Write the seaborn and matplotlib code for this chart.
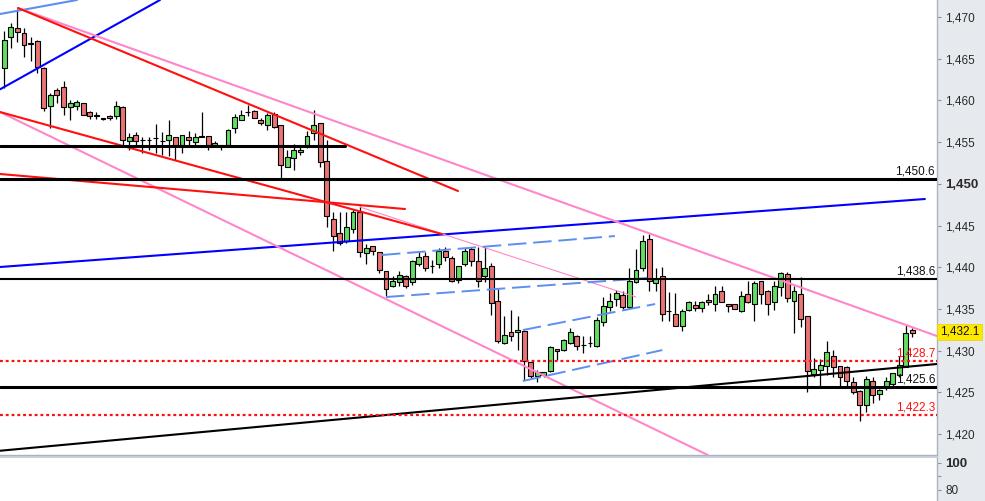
import matplotlib
matplotlib.use("Agg")
import matplotlib.pyplot as plt
import matplotlib.transforms as mtransforms
import numpy as np
import pandas as pd
import seaborn as sns

# ---------------------------------------------------------------------------
# Candles (one per bar)
# ---------------------------------------------------------------------------

opens = [
    1463.9, 1467.6, 1468.7, 1468.1, 1466.9, 1467.1, 1463.9, 1459.3, 1461.2, 1461.6,
    1459.2, 1459.3, 1459.7, 1458.6, 1458.3, 1457.9, 1458.1, 1458.1, 1459.2, 1455.1,
    1455.8, 1455.3, 1455.2, 1455.5, 1455.1, 1455.3, 1455.6, 1454.7, 1455.6, 1455.0,
    1455.6, 1455.7, 1454.7, 1454.7, 1454.7, 1456.7, 1457.7, 1458.6, 1458.7, 1457.7,
    1457.0, 1458.4, 1457.1, 1452.0, 1453.1, 1453.8, 1454.5, 1456.1, 1457.3, 1452.7,
    1445.8, 1444.1, 1443.2, 1444.6, 1446.6, 1441.7, 1442.5, 1441.8, 1439.6, 1437.8,
    1438.2, 1438.9, 1438.2, 1440.4, 1441.3, 1440.2, 1440.4, 1442.0, 1441.1, 1438.5,
    1440.4, 1442.2, 1440.8, 1439.0, 1440.2, 1436.0, 1430.9, 1432.2, 1432.2, 1432.4,
    1428.6, 1427.0, 1427.1, 1427.6, 1430.2, 1430.1, 1430.9, 1431.8, 1430.7, 1430.9,
    1430.6, 1433.4, 1435.2, 1436.2, 1436.7, 1435.2, 1438.2, 1439.9, 1443.4, 1438.1,
    1438.9, 1434.7, 1434.4, 1433.0, 1434.9, 1435.5, 1435.1, 1436.1, 1435.6, 1437.2,
    1435.6, 1435.6, 1434.7, 1436.8, 1435.6, 1438.3, 1437.2, 1435.8, 1437.6, 1439.2,
    1436.0, 1436.8, 1434.1, 1427.2, 1427.7, 1428.2, 1429.3, 1428.2, 1428.1, 1426.3,
    1425.2, 1423.5, 1426.4, 1424.8, 1425.7, 1426.0, 1427.1, 1428.1, 1432.5,
]
highs = [
    1468.3, 1469.3, 1471.0, 1468.7, 1467.6, 1467.3, 1464.0, 1460.9, 1461.5, 1462.3,
    1460.1, 1460.1, 1459.7, 1458.7, 1458.6, 1457.9, 1458.3, 1459.9, 1459.3, 1456.1,
    1456.2, 1455.6, 1455.6, 1457.2, 1456.2, 1457.7, 1455.6, 1455.9, 1456.3, 1456.1,
    1458.6, 1455.7, 1455.1, 1454.7, 1456.6, 1458.4, 1458.8, 1459.5, 1458.8, 1457.9,
    1458.5, 1458.6, 1457.1, 1454.1, 1454.8, 1454.5, 1456.3, 1458.8, 1457.3, 1455.3,
    1446.6, 1446.6, 1446.6, 1446.9, 1447.3, 1442.8, 1442.5, 1441.8, 1439.6, 1438.9,
    1439.6, 1439.1, 1440.9, 1441.8, 1441.8, 1440.9, 1442.3, 1442.4, 1441.3, 1440.2,
    1442.3, 1442.4, 1442.4, 1442.4, 1440.5, 1437.4, 1434.2, 1434.9, 1434.2, 1432.5,
    1428.6, 1427.7, 1427.5, 1430.6, 1430.2, 1431.4, 1432.7, 1431.9, 1431.8, 1431.7,
    1434.0, 1436.4, 1436.9, 1437.3, 1437.2, 1439.9, 1442.2, 1443.9, 1444.0, 1439.9,
    1440.0, 1437.0, 1436.9, 1435.0, 1436.0, 1435.9, 1436.0, 1436.8, 1437.7, 1437.8,
    1435.6, 1435.6, 1437.2, 1438.4, 1438.3, 1438.3, 1437.3, 1438.3, 1439.4, 1439.4,
    1437.7, 1438.8, 1434.2, 1429.1, 1429.0, 1431.1, 1430.1, 1428.2, 1428.2, 1426.9,
    1425.3, 1427.0, 1426.9, 1425.4, 1426.9, 1427.3, 1429.3, 1433.1, 1432.7,
]
lows = [
    1461.5, 1466.3, 1467.0, 1465.2, 1464.7, 1463.3, 1458.7, 1456.7, 1459.7, 1458.3,
    1457.6, 1458.9, 1458.3, 1457.8, 1457.8, 1457.6, 1457.7, 1457.8, 1454.6, 1454.1,
    1454.5, 1453.7, 1454.1, 1453.7, 1453.4, 1453.3, 1452.9, 1453.7, 1454.7, 1454.5,
    1455.6, 1454.1, 1454.5, 1454.0, 1454.7, 1456.1, 1457.7, 1458.1, 1457.9, 1457.0,
    1456.5, 1456.7, 1450.7, 1452.0, 1451.7, 1453.4, 1454.3, 1455.2, 1452.0, 1444.8,
    1442.0, 1442.7, 1442.9, 1444.1, 1441.2, 1440.4, 1441.5, 1439.3, 1436.5, 1437.6,
    1437.8, 1437.5, 1437.9, 1440.1, 1439.5, 1439.3, 1439.9, 1440.8, 1438.2, 1438.1,
    1440.1, 1440.1, 1437.6, 1438.2, 1434.3, 1430.9, 1430.8, 1431.2, 1430.1, 1426.5,
    1426.7, 1426.2, 1426.9, 1427.5, 1428.9, 1429.9, 1430.8, 1430.1, 1429.7, 1430.4,
    1430.4, 1432.9, 1434.7, 1435.4, 1435.0, 1435.0, 1438.1, 1439.6, 1437.1, 1437.1,
    1433.5, 1433.5, 1433.0, 1432.3, 1434.7, 1434.7, 1434.6, 1435.5, 1434.7, 1435.8,
    1434.6, 1435.0, 1434.6, 1435.7, 1433.5, 1435.6, 1434.3, 1434.9, 1436.5, 1435.8,
    1432.1, 1432.8, 1425.1, 1426.9, 1425.7, 1427.1, 1426.9, 1425.7, 1425.7, 1424.8,
    1421.6, 1422.6, 1423.7, 1424.1, 1425.3, 1425.7, 1426.9, 1428.0, 1431.6,
]
closes = [
    1467.3, 1468.8, 1468.2, 1466.6, 1466.8, 1464.0, 1459.1, 1460.6, 1460.7, 1459.2,
    1459.7, 1459.8, 1458.3, 1458.1, 1458.1, 1457.8, 1457.9, 1459.3, 1455.2, 1455.6,
    1455.1, 1455.3, 1455.2, 1455.5, 1455.1, 1455.8, 1454.5, 1455.8, 1455.2, 1455.6,
    1455.7, 1454.7, 1454.9, 1454.7, 1456.5, 1458.0, 1458.3, 1458.6, 1457.9, 1457.3,
    1458.3, 1456.8, 1452.2, 1453.2, 1454.0, 1454.0, 1455.7, 1457.1, 1452.6, 1446.1,
    1443.7, 1442.9, 1444.8, 1446.6, 1441.8, 1442.3, 1442.0, 1439.7, 1437.4, 1438.4,
    1439.1, 1437.8, 1440.8, 1441.2, 1439.9, 1440.2, 1441.9, 1441.2, 1438.4, 1440.2,
    1441.9, 1440.7, 1438.4, 1439.9, 1435.7, 1431.2, 1431.9, 1431.8, 1432.5, 1428.7,
    1427.0, 1427.4, 1427.4, 1430.4, 1429.9, 1431.3, 1432.2, 1430.6, 1430.7, 1430.9,
    1433.7, 1435.4, 1436.0, 1436.9, 1435.2, 1438.4, 1439.7, 1443.2, 1438.4, 1438.6,
    1434.4, 1434.7, 1433.0, 1434.8, 1435.8, 1435.1, 1435.8, 1435.8, 1436.8, 1435.8,
    1435.3, 1435.0, 1436.5, 1435.8, 1438.1, 1436.8, 1435.6, 1437.7, 1439.3, 1436.3,
    1437.2, 1433.8, 1427.6, 1427.8, 1428.3, 1429.8, 1428.1, 1426.8, 1426.4, 1425.1,
    1423.5, 1426.6, 1424.7, 1425.3, 1426.4, 1427.3, 1428.3, 1432.1, 1432.1,
]

# ---------------------------------------------------------------------------
# Drawn trendlines: (bar index), (price)
# ---------------------------------------------------------------------------

lightblue_top_x, lightblue_top_y = [-0.65, 11.05], [1470.36, 1472.04]
blue_steep_x, blue_steep_y = [-0.65, 23.66], [1461.33, 1472.04]
blue_mid_x, blue_mid_y = [-0.65, 139.9], [1440.03, 1448.18]
pink_upper_x, pink_upper_y = [2.08, 141.74], [1471.08, 1431.75]
pink_lower_x, pink_lower_y = [-0.65, 106.9], [1458.61, 1417.49]
pink_thin_x, pink_thin_y = [54.06, 96.0], [1447.22, 1436.43]
red_upper_x, red_upper_y = [2.08, 68.95], [1471.08, 1449.14]
red_lower_x, red_lower_y = [-0.65, 66.5], [1458.61, 1443.98]
red_flat_x, red_flat_y = [-0.65, 60.9], [1451.18, 1446.98]
black_rise_x, black_rise_y = [-0.65, 141.74], [1418.0, 1428.4]

# light-blue dashed channel pieces
dash_a_x, dash_a_y = [57.4, 92.8], [1441.47, 1443.74]
dash_b_x, dash_b_y = [58.0, 97.7], [1436.43, 1438.71]
dash_c_x, dash_c_y = [78.8, 98.9], [1432.47, 1435.59]
dash_d_x, dash_d_y = [78.8, 100.0], [1426.36, 1430.07]

# horizontal levels
level_black_short = 1454.5
level_black_short_end = 51.8
levels_black = [1450.6, 1438.6, 1425.6]
levels_black_lw = [2.2, 1.5, 2.2]
levels_red = [1428.7, 1422.3]
last_price = 1432.1

price_ticks = [1420, 1425, 1430, 1435, 1440, 1445, 1450, 1455, 1460, 1465, 1470]
lower_ticks = [80, 90, 100]

# ---------------------------------------------------------------------------

sns.set_theme(style="white")
plt.rcParams["font.family"] = ["Liberation Sans", "DejaVu Sans"]

PINK = "#ff86c8"
RED = "#ff1010"
BLUE = "#0000ff"
LBLUE = "#5c8ff0"
GREEN_BODY = "#62df62"
RED_BODY = "#ea7474"
PANEL_BG = "#e6eaef"
EDGE = "#a9b3c2"

fig = plt.figure(figsize=(9.85, 5.01), dpi=100, facecolor=PANEL_BG)
ax = fig.add_axes([0, 46 / 501, 937 / 985, 455 / 501])
ax_low = fig.add_axes([0, 0, 937 / 985, 44 / 501])
for a in (ax, ax_low):
    a.set_facecolor("white")

df = pd.DataFrame({"o": opens, "h": highs, "l": lows, "c": closes})
df["i"] = np.arange(len(df))
df["bottom"] = df[["o", "c"]].min(axis=1)
df["height"] = (df["c"] - df["o"]).abs()
df["color"] = np.where(df["c"] > df["o"], GREEN_BODY, RED_BODY)

ax.vlines(df["i"], df["l"], df["h"], color="black", lw=0.9, zorder=2)
ax.bar(df["i"], df["height"], bottom=df["bottom"], width=0.74,
       color=df["color"], edgecolor="black", linewidth=0.8, zorder=3)

# trendlines
solid = [
    (lightblue_top_x, lightblue_top_y, LBLUE, 1.5),
    (blue_steep_x, blue_steep_y, BLUE, 1.5),
    (blue_mid_x, blue_mid_y, BLUE, 1.5),
    (pink_upper_x, pink_upper_y, PINK, 1.5),
    (pink_lower_x, pink_lower_y, PINK, 1.5),
    (pink_thin_x, pink_thin_y, PINK, 0.8),
    (red_upper_x, red_upper_y, RED, 1.5),
    (red_lower_x, red_lower_y, RED, 1.5),
    (red_flat_x, red_flat_y, RED, 1.5),
    (black_rise_x, black_rise_y, "black", 1.5),
]
for xs, ys, col, lw in solid:
    sns.lineplot(x=xs, y=ys, ax=ax, color=col, lw=lw, zorder=4)

for xs, ys in [(dash_a_x, dash_a_y), (dash_b_x, dash_b_y),
               (dash_c_x, dash_c_y), (dash_d_x, dash_d_y)]:
    ax.plot(xs, ys, color=LBLUE, lw=1.4, linestyle=(0, (9.5, 3.5)), zorder=4)

# levels
ax.plot([-0.65, level_black_short_end], [level_black_short] * 2,
        color="black", lw=2.2, zorder=4)
trans = mtransforms.blended_transform_factory(ax.transAxes, ax.transData)
for lvl, lw in zip(levels_black, levels_black_lw):
    ax.axhline(lvl, color="black", lw=lw, zorder=4)
    ax.annotate(f"{lvl:,.1f}", (0.998, lvl), xycoords=trans, xytext=(0, 1.2),
                textcoords="offset points", ha="right", va="bottom",
                fontsize=8.5, color="#111111", zorder=6)
for lvl in levels_red:
    ax.axhline(lvl, color=RED, lw=1.6, linestyle=(0, (1.3, 1.3)), zorder=4)
    ax.annotate(f"{lvl:,.1f}", (0.998, lvl), xycoords=trans, xytext=(0, 1.2),
                textcoords="offset points", ha="right", va="bottom",
                fontsize=8.5, color=RED, zorder=6)

ax.text(1.003, last_price + 0.15, f"{last_price:,.1f}", transform=trans,
        ha="left", va="center", fontsize=8.5, color="#111111",
        bbox=dict(boxstyle="square,pad=0.2", fc="#ffe800", ec="#e8d000", lw=0.5),
        clip_on=False, zorder=7)

# axes cosmetics
ax.set_xlim(-0.65, 141.74)
ax.set_ylim(1417.49, 1472.04)
ax.set_xticks([])
ax.yaxis.tick_right()
ax.set_yticks(price_ticks)
ax.set_yticklabels([f"{t:,d}" for t in price_ticks])

ax_low.set_xlim(-0.65, 141.74)
ax_low.set_ylim(71.85, 104.4)
ax_low.set_xticks([])
ax_low.yaxis.tick_right()
ax_low.set_yticks(lower_ticks)
ax_low.set_yticklabels(["80", "", "100"])

for a in (ax, ax_low):
    a.tick_params(axis="y", direction="out", length=3, width=0.8, color="#8a93a3",
                  pad=3, labelsize=8.5, labelcolor="#2a2a2a")
    for side in ("left", "top"):
        a.spines[side].set_visible(False)
    for side in ("right", "bottom"):
        a.spines[side].set_color(EDGE)
        a.spines[side].set_linewidth(1.0)
ax_low.spines["top"].set_visible(True)
ax_low.spines["top"].set_color("#c4ccd8")
ax_low.spines["bottom"].set_visible(False)

for t, lab in zip(price_ticks, ax.get_yticklabels()):
    if t == 1450:
        lab.set_fontweight("bold")
        lab.set_fontsize(9.5)
lab100 = ax_low.get_yticklabels()[2]
lab100.set_fontweight("bold")
lab100.set_fontsize(9.5)

fig.savefig("out.png", dpi=100, facecolor=PANEL_BG)
plt.close(fig)
